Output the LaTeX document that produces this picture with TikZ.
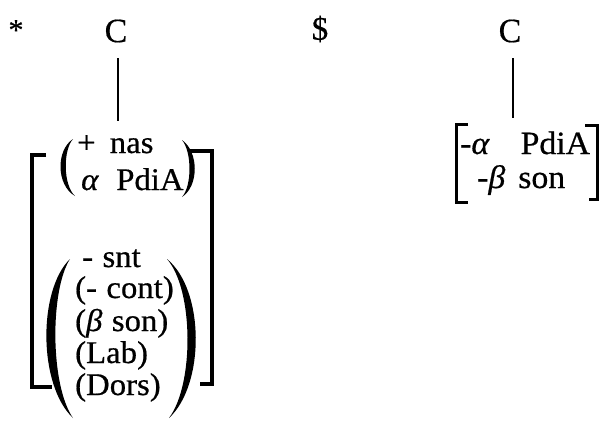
\documentclass[tikz,border=0pt]{standalone}
\usepackage{fontspec}
\setmainfont{Liberation Serif}[FakeBold=0.5]
\newfontfamily\featfont[FakeStretch=1.04,FakeBold=0.6]{Liberation Serif}
\begin{document}
\begin{tikzpicture}[x=1pt,y=-1pt,
  feat/.style={anchor=base west,inner sep=0pt,font=\featfont\fontsize{31.5}{33}\selectfont},
  rfeat/.style={feat,font=\featfont\fontsize{32.5}{34}\selectfont},
  cat/.style={anchor=center,inner sep=0pt,font=\fontsize{34}{36}\selectfont},
  brk/.style={line width=3.5pt,line cap=butt,line join=miter},
  stem/.style={line width=1.2pt},
  par/.style={fill=black,draw=none}]
\useasboundingbox (0,0) rectangle (603,424);
% top symbols
\node[inner sep=0pt,font=\fontsize{30}{32}\selectfont] (star) at (16,30) {*};
\node[cat,font=\fontsize{33}{35}\selectfont] (dollar) at (320,29) {\$};
\node[cat] (C1) at (116,31) {C};
\node[cat] (C2) at (510,31) {C};
% stems
\coordinate (s1t) at (118,58);
\coordinate (s1b) at (118,121);
\coordinate (s2t) at (513,58);
\coordinate (s2b) at (513,118);
\draw[stem] (s1t) -- (s1b);
\draw[stem] (s2t) -- (s2b);
% left features
\node[feat] (nas) at (77,153) {+\hspace{0.45em}nas};
\node[feat] (pdia) at (81,190) {\textit{α}\hspace{0.55em}PdiA};
\node[feat] (snt) at (82,267) {-\hspace{0.3em}snt};
\node[feat] (cont) at (75,298) {(-\hspace{0.3em}cont)};
\node[feat] (son) at (75,331) {(\textit{β}\hspace{0.3em}son)};
\node[feat] (lab) at (75,363) {(Lab)};
\node[feat] (dors) at (75,395) {(Dors)};
% right features
\node[rfeat] (rpdia) at (460,154) {-\textit{α}\hspace{0.95em}PdiA};
\node[rfeat] (rson) at (477,188) {-\textit{β}\hspace{0.4em}son};
% left big brackets
\draw[brk] (46,155) -- (32,155) -- (32,387) -- (52,387);
\draw[brk] (190,151) -- (212,151) -- (212,384) -- (200,384);
% upper parens
\fill[par] (73,139) .. controls (56,150) and (56,185) .. (75,196)
  .. controls (63,185) and (63,150) .. (73,139) -- cycle;
\fill[par] (182,140) .. controls (199,152) and (199,186) .. (182,197)
  .. controls (192,186) and (192,152) .. (182,140) -- cycle;
% lower big parens
\fill[par] (70,259) .. controls (38,290) and (38,385) .. (73,418)
  .. controls (50,385) and (50,290) .. (70,259) -- cycle;
\fill[par] (167,259) .. controls (205,290) and (205,385) .. (169,418)
  .. controls (194,385) and (194,290) .. (167,259) -- cycle;
% right brackets
\draw[brk,line width=3pt] (468,124) -- (456,124) -- (456,202) -- (468,202);
\draw[brk,line width=3pt] (585,125) -- (597,125) -- (597,199) -- (589,199);
\end{tikzpicture}
\end{document}
